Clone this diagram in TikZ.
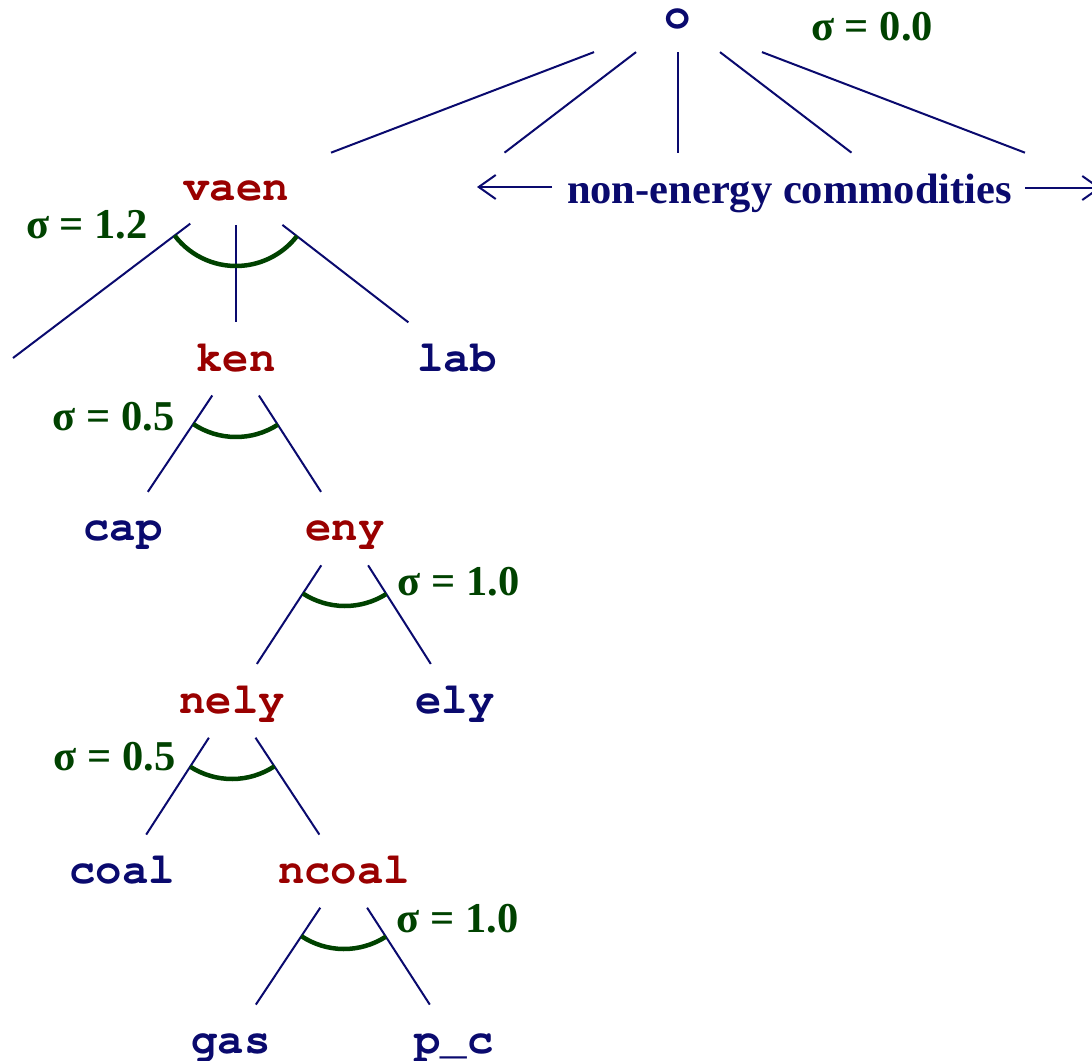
\documentclass[tikz,border=0pt]{standalone}
\usepackage{fontspec}
\setmainfont{Liberation Serif}
\setmonofont{texgyrecursor}[Extension=.otf, UprightFont=*-regular, BoldFont=*-bold]
\usetikzlibrary{calc,arrows.meta}

\definecolor{nestred}{RGB}{153,0,0}
\definecolor{nestblue}{RGB}{10,10,110}
\definecolor{nestgreen}{RGB}{0,66,0}

% straight branch between two tree nodes, cut short at both ends
\newcommand\nestbranch[2]{\draw[treebranch] ($(#1)!0.21!(#2)$) -- ($(#1)!0.78!(#2)$);}
% substitution-elasticity arc round a parent node, spanning its outer branches
\newcommand\nestarc[3]{%
  \draw[sigarc] let \p1=($(#2)-(#1)$), \p2=($(#3)-(#1)$),
    \n1={atan2(\y1,\x1)}, \n2={atan2(\y2,\x2)} in
    ($(#1)!77pt!(#2)$) arc[start angle=\n1, end angle=\n2, radius=77pt];}

\begin{document}
\begin{tikzpicture}[x=1pt,y=-1pt,
  treenode/.style={font=\fontsize{44}{50}\selectfont\ttfamily\bfseries,
    inner sep=0pt, text height=22pt, text depth=0pt, anchor=center},
  nestnode/.style={treenode, text=nestred},
  leafnode/.style={treenode, text=nestblue},
  signode/.style={font=\fontsize{42.5}{50}\selectfont\bfseries, text=nestgreen,
    inner sep=0pt, anchor=base},
  caption/.style={font=\fontsize{42.5}{50}\selectfont\bfseries, text=nestblue,
    inner sep=0pt, anchor=base},
  treebranch/.style={draw=nestblue, line width=2pt},
  sigarc/.style={draw=nestgreen, line width=4.5pt},
  spanarrow/.style={draw=nestblue, line width=2pt,
    -{Straight Barb[length=17pt,width=24pt]}}]

\useasboundingbox (0,0) rectangle (1092,1060);

% top level
\node[leafnode, text height=16pt] (o) at (678,20) {o};
\node[signode] (s0) at (872,40) {σ = 0.0};
\coordinate (ne2) at (457,189);
\coordinate (ne3) at (678,189);
\coordinate (ne4) at (899,189);
\coordinate (ne5) at (1120,189);

% value added + energy nest and below
\node[nestnode] (vaen)  at (236,189)  {vaen};
\coordinate (vaenX) at (13,358);
\node[nestnode] (ken)   at (236,360)  {ken};
\node[leafnode] (lab)   at (457,360)  {lab};
\node[leafnode] (cap)   at (123,529)  {cap};
\node[nestnode] (eny)   at (345,529)  {eny};
\node[nestnode] (nely)  at (232,702)  {nely};
\node[leafnode] (ely)   at (455,702)  {ely};
\node[leafnode] (coal)  at (122,872)  {coal};
\node[nestnode] (ncoal) at (344,872)  {ncoal};
\node[leafnode] (gas)   at (231,1042) {gas};
\node[leafnode] (pc)    at (454,1042) {p\_c};

% elasticities
\node[signode] (s1) at (87,238)    {σ = 1.2};
\node[signode] (s2) at (113.5,430) {σ = 0.5};
\node[signode] (s3) at (458.5,595) {σ = 1.0};
\node[signode] (s4) at (114.5,770) {σ = 0.5};
\node[signode] (s5) at (457.5,932) {σ = 1.0};

% non-energy commodities
\node[caption] (nec) at (789.5,203) {non-energy commodities};
\coordinate (arrLs) at (552,187);
\coordinate (arrLe) at (477,187);
\coordinate (arrRs) at (1025,188);
\coordinate (arrRe) at (1101,188);
\draw[spanarrow] (arrLs) -- (arrLe);
\draw[spanarrow] (arrRs) -- (arrRe);

% branches from the top node
\foreach \c in {vaen,ne2,ne3,ne4,ne5}
  \draw[treebranch] ($(o)!0.19!(\c)$) -- ($(o)!0.785!(\c)$);

% branches of the energy tree
\draw[treebranch] ($(vaen)!0.205!(vaenX)$) -- (vaenX);
\nestbranch{vaen}{ken}
\nestbranch{vaen}{lab}
\nestbranch{ken}{cap}
\nestbranch{ken}{eny}
\nestbranch{eny}{nely}
\nestbranch{eny}{ely}
\nestbranch{nely}{coal}
\nestbranch{nely}{ncoal}
\nestbranch{ncoal}{gas}
\nestbranch{ncoal}{pc}

% elasticity arcs
\nestarc{vaen}{vaenX}{lab}
\nestarc{ken}{cap}{eny}
\nestarc{eny}{nely}{ely}
\nestarc{nely}{coal}{ncoal}
\nestarc{ncoal}{gas}{pc}
\end{tikzpicture}
\end{document}
